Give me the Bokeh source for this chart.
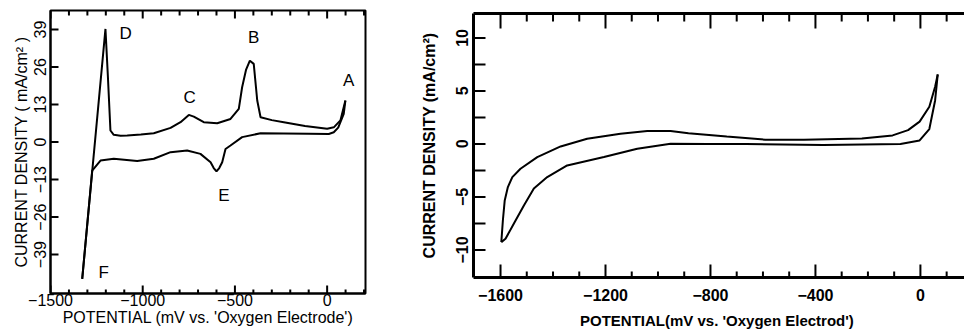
import math
from bokeh.plotting import figure
from bokeh.layouts import row, column
from bokeh.models import (LinearAxis, SingleIntervalTicker, FixedTicker, Range1d,
                          ColumnDataSource, LabelSet)
from bokeh.core.properties import value
from bokeh.embed import file_html
from bokeh.resources import INLINE

# ---------------- data: left panel (cyclic voltammogram) ----------------
left_anodic_x = [-1328, -1202, -1189, -1175, -1157, -1120, -1084, -1010, -940, -849, -795,
                 -750, -723, -669, -596, -524, -479, -461, -440, -419, -398, -379, -361,
                 -300, -235, -120, 0, 36, 72, 99]
left_anodic_y = [-47.4, 39.2, 23.0, 4.0, 2.5, 2.2, 2.25, 2.6, 3.05, 4.9, 6.9,
                 9.4, 8.8, 6.9, 6.5, 8.0, 11.5, 19.0, 25.0, 28.2, 27.1, 14.4, 8.6,
                 7.6, 6.9, 5.6, 4.6, 5.1, 7.5, 14.4]
left_cathodic_x = [99, 90, 60, 36, 9, -100, -235, -361, -461, -524, -551, -569, -585, -600,
                   -615, -632, -687, -759, -849, -940, -1030, -1157, -1229, -1274, -1328]
left_cathodic_y = [14.4, 9.8, 5.0, 3.4, 2.8, 2.9, 3.0, 3.05, 1.7, -1.2, -2.4, -7.0, -9.0, -10.2,
                   -9.0, -7.0, -4.1, -2.9, -3.5, -5.8, -6.6, -5.8, -6.4, -9.9, -47.4]

left_letters = ["D", "B", "C", "A", "E", "F"]
left_letter_x = [-1093, -398, -745, 117, -560, -1211]
left_letter_y = [37.5, 36.3, 15.5, 21.3, -18.5, -45.1]

left_x_ticks = [-1500, -1000, -500, 0]
left_x_minor = [-1400, -1300, -1200, -1100, -900, -800, -700, -600,
                -400, -300, -200, -100, 100, 200]
left_x_labels = ["\u22121500", "\u22121000", "\u2212500", "0"]
left_y_ticks = [-39, -26, -13, 0, 13, 26, 39]
left_y_labels = ["\u221239", "\u221226", "\u221213", "0", "13", "26", "39"]
left_x_title = "POTENTIAL (mV vs. 'Oxygen Electrode')"
left_y_title = "CURRENT DENSITY ( mA/cm\u00b2 )"

# ---------------- data: right panel ----------------
right_outer_x = [-1597, -1591, -1584, -1572, -1555, -1524, -1460, -1371, -1270, -1143,
                 -1041, -952, -884, -738, -591, -444, -223, -106, -47, -3, 34, 56, 66]
right_outer_y = [-9.26, -7.2, -5.33, -4.07, -3.13, -2.34, -1.24, -0.24, 0.49, 0.96,
                 1.21, 1.21, 1.0, 0.7, 0.4, 0.4, 0.5, 0.8, 1.3, 2.1, 3.5, 5.4, 6.55]
right_inner_x = [66, 56, 34, -3, -76, -370, -664, -811, -952, -1079, -1206, -1346,
                 -1422, -1473, -1511, -1549, -1581, -1597]
right_inner_y = [6.55, 4.1, 1.4, 0.33, 0.0, -0.1, 0.0, 0.0, 0.02, -0.45, -1.24, -2.03,
                 -3.13, -4.2, -5.8, -7.5, -8.95, -9.26]

right_x_ticks = [-1600, -1200, -800, -400, 0]
right_x_minor = [-1500, -1400, -1300, -1100, -1000, -900, -700, -600, -500,
                 -300, -200, -100, 100]
right_x_labels = ["\u22121600", "\u22121200", "\u2212800", "\u2212400", "0"]
right_y_ticks = [-10, -5, 0, 5, 10]
right_y_minor = [-7.5, -2.5, 2.5, 7.5]
right_y_labels = ["\u221210", "\u22125", "0", "5", "10"]
right_x_title = "POTENTIAL(mV vs.  'Oxygen Electrod')"
right_y_title = "CURRENT DENSITY (mA/cm\u00b2)"

FONT = "Liberation Sans"
UP, DOWN, RIGHT = math.pi / 2, -math.pi / 2, 0.0


def style_axis(ax, size, style, standoff, width):
    ax.major_tick_out = 0
    ax.minor_tick_out = 0
    ax.major_tick_in = 0
    ax.minor_tick_in = 0
    ax.axis_line_width = width
    ax.axis_line_color = "black"
    ax.major_label_text_font = FONT
    ax.major_label_text_font_size = size
    ax.major_label_text_font_style = style
    ax.major_label_text_color = "black"
    ax.major_label_standoff = standoff
    ax.axis_label_text_font = FONT
    ax.axis_label_text_font_style = style
    ax.axis_label_text_color = "black"


def hide_labels(ax):
    ax.major_label_text_font_size = "1px"
    ax.major_label_text_color = None
    ax.major_label_standoff = 0


def ticks(p, xs, ys, length, angle):
    # inward tick marks, drawn through the plot's own scales; length in screen pixels
    p.ray(x=xs, y=ys, length=length, length_units="screen", angle=angle,
          line_color="black", line_width=2)


# ---------------- left figure ----------------
lx0, lx1, ly0, ly1 = -1500, 208, -52.5, 45.6
p1 = figure(width=410, height=333, output_backend="svg", toolbar_location=None,
            x_range=Range1d(lx0, lx1), y_range=Range1d(ly0, ly1),
            x_axis_location=None, y_axis_location=None,
            min_border_left=50, min_border_right=45, min_border_top=10, min_border_bottom=40)
p1.grid.visible = False
p1.outline_line_color = "black"
p1.outline_line_width = 2

xb = LinearAxis(ticker=FixedTicker(ticks=left_x_ticks, minor_ticks=[]),
                axis_label=left_x_title)
style_axis(xb, "16px", "normal", 0, 2)
xb.axis_label_text_font_size = "16px"
xb.axis_label_standoff = 0
xb.major_label_overrides = {t: l for t, l in zip(left_x_ticks, left_x_labels)}
p1.add_layout(xb, "below")

yl = LinearAxis(ticker=FixedTicker(ticks=left_y_ticks, minor_ticks=[]),
                axis_label=left_y_title)
style_axis(yl, "16px", "normal", 4, 2)
yl.axis_label_text_font_size = "16px"
yl.axis_label_standoff = 2
yl.major_label_orientation = "vertical"
yl.major_label_overrides = {t: l for t, l in zip(left_y_ticks, left_y_labels)}
p1.add_layout(yl, "left")

ticks(p1, left_x_ticks, [ly0] * len(left_x_ticks), 8, UP)
ticks(p1, left_x_minor, [ly0] * len(left_x_minor), 4, UP)
ticks(p1, left_x_ticks, [ly1] * len(left_x_ticks), 8, DOWN)
ticks(p1, left_x_minor, [ly1] * len(left_x_minor), 5, DOWN)
ticks(p1, [lx0] * len(left_y_ticks), left_y_ticks, 8, RIGHT)

p1.line(left_anodic_x, left_anodic_y, line_color="black", line_width=2)
p1.line(left_cathodic_x, left_cathodic_y, line_color="black", line_width=2)
src = ColumnDataSource(dict(x=left_letter_x, y=left_letter_y, t=left_letters))
p1.add_layout(LabelSet(x="x", y="y", text="t", source=src, text_font=value(FONT),
                       text_font_size="17px", text_align="center",
                       text_baseline="middle", text_color="black"))

# ---------------- right figure ----------------
rx0, rx1, ry0, ry1 = -1703, 168, -12.6, 12.3
p2 = figure(width=554, height=333, output_backend="svg", toolbar_location=None,
            x_range=Range1d(rx0, rx1), y_range=Range1d(ry0, ry1),
            x_axis_location=None, y_axis_location=None,
            min_border_left=63, min_border_right=0, min_border_top=13, min_border_bottom=56)
p2.grid.visible = False
p2.outline_line_color = None

xb2 = LinearAxis(ticker=FixedTicker(ticks=right_x_ticks, minor_ticks=[]),
                 axis_label=right_x_title)
style_axis(xb2, "16px", "bold", 11, 3)
xb2.axis_label_text_font_size = "15px"
xb2.axis_label_standoff = 8
xb2.major_label_overrides = {t: l for t, l in zip(right_x_ticks, right_x_labels)}
p2.add_layout(xb2, "below")

xt2 = LinearAxis(ticker=FixedTicker(ticks=right_x_ticks, minor_ticks=[]))
style_axis(xt2, "1px", "bold", 0, 3)
hide_labels(xt2)
p2.add_layout(xt2, "above")

yl2 = LinearAxis(ticker=FixedTicker(ticks=right_y_ticks, minor_ticks=[]),
                 axis_label=right_y_title)
style_axis(yl2, "16px", "bold", 5, 3)
yl2.axis_label_text_font_size = "16px"
yl2.axis_label_standoff = 16
yl2.major_label_orientation = "vertical"
yl2.major_label_overrides = {t: l for t, l in zip(right_y_ticks, right_y_labels)}
p2.add_layout(yl2, "left")

ticks(p2, right_x_ticks, [ry0] * len(right_x_ticks), 13, UP)
ticks(p2, right_x_minor, [ry0] * len(right_x_minor), 6, UP)
ticks(p2, right_x_ticks, [ry1] * len(right_x_ticks), 15, DOWN)
ticks(p2, right_x_minor, [ry1] * len(right_x_minor), 8, DOWN)
ticks(p2, [rx0] * len(right_y_ticks), right_y_ticks, 12, RIGHT)
ticks(p2, [rx0] * len(right_y_minor), right_y_minor, 12, RIGHT)

p2.line(right_outer_x, right_outer_y, line_color="black", line_width=2)
p2.line(right_inner_x, right_inner_y, line_color="black", line_width=2)

layout = row(column(p1), column(p2))
open("out.html", "w").write(file_html(layout, INLINE))
